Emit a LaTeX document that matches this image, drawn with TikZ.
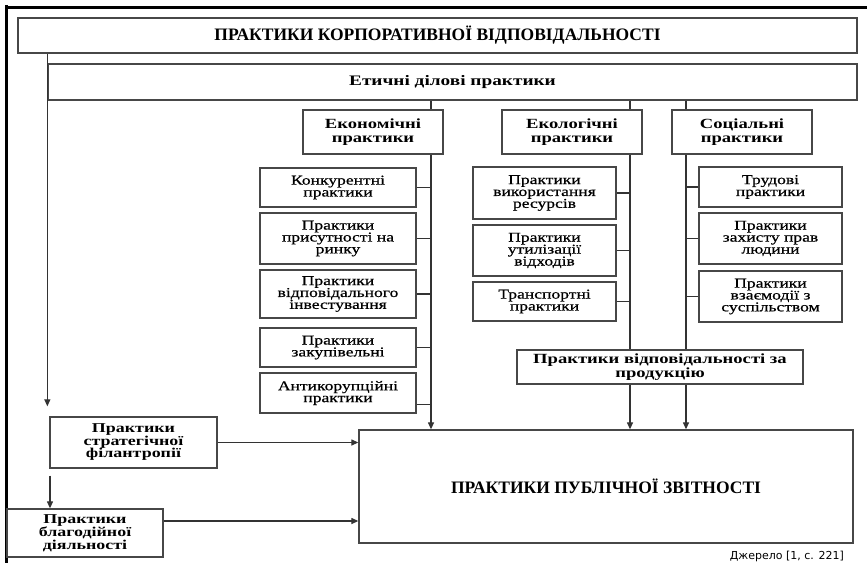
\documentclass[tikz,border=0pt]{standalone}
\usepackage{fontspec}
\setmainfont{Liberation Serif}
\newfontfamily\widefont[FakeStretch=1.3,FakeBold=0.6]{Liberation Serif}
\newfontfamily\headfont[FakeStretch=1.33]{Liberation Serif}
\newfontfamily\srcfont{DejaVu Sans}
\usetikzlibrary{arrows.meta,calc}

\tikzset{
  frame/.style={line width=3pt, black},
  box/.style={draw=black!72, line width=1.3pt, fill=white, rectangle,
    inner sep=0pt, align=center},
  head/.style={box, font=\headfont\bfseries\fontsize{14}{14}\selectfont},
  sub/.style={box, font=\widefont\fontsize{13.5}{11.9}\selectfont},
  title/.style={box, font=\bfseries\fontsize{17.5}{19}\selectfont},
  link/.style={draw=black!80, line width=1.2pt},
  arr/.style={link, -{Triangle[length=7pt,width=6pt]}},
}

\begin{document}
\begin{tikzpicture}[x=1pt,y=-1pt]
\useasboundingbox (0,0) rectangle (867,563);

% outer frame (top and left edges)
\draw[frame] (5,7) -- (867,7);
\draw[frame] (6.5,5) -- (6.5,563);

% upper level
\node[title, minimum width=839, minimum height=35] (top) at (437.5,35.5)
  {ПРАКТИКИ КОРПОРАТИВНОЇ ВІДПОВІДАЛЬНОСТІ};
\node[box, font=\headfont\bfseries\fontsize{14.5}{15}\selectfont,
  minimum width=809, minimum height=36] (eth) at (452.5,82)
  {Етичні ділові практики};

% three groups
\node[head, minimum width=140, minimum height=44] (econ) at (373,132)
  {Економічні\\практики};
\node[head, minimum width=140, minimum height=44] (ecol) at (572,132)
  {Екологічні\\практики};
\node[head, minimum width=140, minimum height=44] (soc) at (742,132)
  {Соціальні\\практики};

% economic practices
\node[sub, minimum width=156, minimum height=39] (e1) at (338,187.5)
  {Конкурентні\\практики};
\node[sub, minimum width=156, minimum height=51] (e2) at (338,238.5)
  {Практики\\присутності на\\ринку};
\node[sub, minimum width=156, minimum height=48] (e3) at (338,294)
  {Практики\\відповідального\\інвестування};
\node[sub, minimum width=156, minimum height=39] (e4) at (338,347.5)
  {Практики\\закупівельні};
\node[sub, minimum width=156, minimum height=40] (e5) at (338,393)
  {Антикорупційні\\практики};

% ecological practices
\node[sub, minimum width=143, minimum height=52] (c1) at (544.5,193)
  {Практики\\використання\\ресурсів};
\node[sub, minimum width=143, minimum height=51] (c2) at (544.5,250.5)
  {Практики\\утилізації\\відходів};
\node[sub, minimum width=143, minimum height=39] (c3) at (544.5,301.5)
  {Транспортні\\практики};

% social practices
\node[sub, minimum width=143, minimum height=40] (s1) at (770.5,187)
  {Трудові\\практики};
\node[sub, minimum width=143, minimum height=51] (s2) at (770.5,238.5)
  {Практики\\захисту прав\\людини};
\node[sub, minimum width=143, minimum height=51] (s3) at (770.5,296.5)
  {Практики\\взаємодії з\\суспільством};

% product responsibility
\node[head, minimum width=286, minimum height=34,
  font=\headfont\bfseries\fontsize{14}{12.5}\selectfont] (prod) at (660,367)
  {Практики відповідальності за\\продукцію};

% public reporting
\node[title, minimum width=494, minimum height=113] (pub) at (606,486.5)
  {ПРАКТИКИ ПУБЛІЧНОЇ ЗВІТНОСТІ};

% philanthropy branch
\node[head, minimum width=167, minimum height=51,
  font=\headfont\bfseries\fontsize{13.5}{12.5}\selectfont] (strat) at (133.5,442.5)
  {Практики\\стратегічної\\філантропії};
\node[head, minimum width=156, minimum height=48,
  font=\headfont\bfseries\fontsize{13.5}{12.5}\selectfont] (char) at (85,533)
  {Практики\\благодійної\\діяльності};

% source note
\node[font=\srcfont\fontsize{11}{12}\selectfont, anchor=base east, inner sep=0pt]
  (src) at (844,559) {Джерело [1, с. 221]};

% trunk lines
\coordinate (xe) at (431,0);
\coordinate (xc) at (630,0);
\coordinate (xs) at (686,0);

\draw[link] (eth.south -| xe) -- (econ.north -| xe);
\draw[arr]  (econ.south -| xe) -- (pub.north -| xe);
\draw[link] (eth.south -| xc) -- (ecol.north -| xc);
\draw[link] (ecol.south -| xc) -- (prod.north -| xc);
\draw[arr]  (prod.south -| xc) -- (pub.north -| xc);
\draw[link] (eth.south -| xs) -- (soc.north -| xs);
\draw[link] (soc.south -| xs) -- (prod.north -| xs);
\draw[arr]  (prod.south -| xs) -- (pub.north -| xs);

% branches
\foreach \n in {e1,e2,e3,e4} \draw[link] (\n.east) -- (\n.east -| xe);
\draw[link] ($(e5.south east)+(0,-9)$) -- ($(e5.south east -| xe)+(0,-9)$);
\foreach \n in {c1,c2,c3} \draw[link] (\n.east) -- (\n.east -| xc);
\foreach \n in {s1,s2,s3} \draw[link] (\n.west) -- (\n.west -| xs);

% left column
\draw[arr] (top.south -| eth.west) -- ($(strat.north -| eth.west)+(0,-10)$);
\draw[arr] ($(strat.south)+(-83.5,7)$) -- (char.north -| 50,0);
\draw[arr] (strat.east) -- (strat.east -| pub.west);
\draw[arr] (char.east |- 0,521) -- (pub.west |- 0,521);
\end{tikzpicture}
\end{document}
